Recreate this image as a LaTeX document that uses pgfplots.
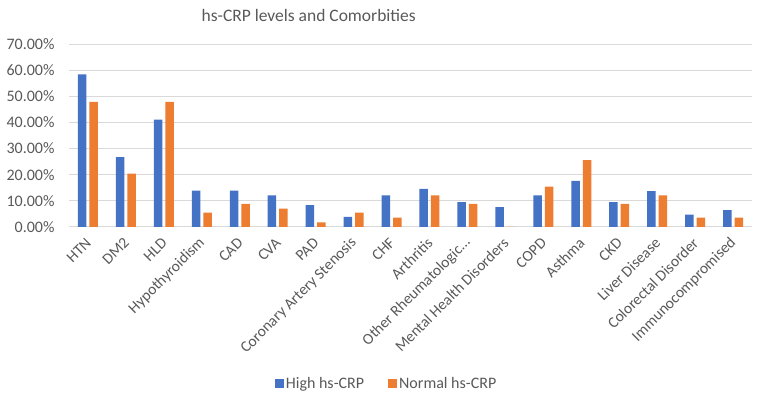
\documentclass[border=0pt]{standalone}
\usepackage{pgfplots}
\pgfplotsset{compat=1.18}
\usepackage{fontspec}
\setmainfont{Carlito}

\definecolor{xlblue}{HTML}{4472C4}
\definecolor{xlorange}{HTML}{ED7D31}
\definecolor{xlgrid}{HTML}{D9D9D9}
\definecolor{xltext}{HTML}{595959}

\begin{document}
\begin{tikzpicture}
\begin{axis}[
    scale only axis,
    width=683pt, height=183pt,
    ybar=3pt,
    bar width=8.5pt,
    ymin=0, ymax=70,
    ytick={0,10,...,70},
    xmin=-0.5, xmax=17.5,
    xtick={0,...,17},
    xticklabels={HTN, DM2, HLD, Hypothyroidism, CAD, CVA, PAD,
        Coronary Artery Stenosis, CHF, Arthritis, {Other Rheumatologic…},
        Mental Health Disorders, COPD, Asthma, CKD, Liver Disease,
        Colorectal Disorder, Immunocompromised},
    xticklabel style={xshift=3pt, yshift=-11pt, rotate=45, anchor=east, font=\fontsize{15.5}{18}\selectfont, text=xltext},
    yticklabel={\pgfmathprintnumber[fixed,fixed zerofill,precision=2]{\tick}\%},
    yticklabel style={font=\fontsize{16}{18}\selectfont, text=xltext, xshift=-11pt},
    /pgf/number format/assume math mode=true,
    major tick length=0pt,
    ymajorgrids,
    grid style={xlgrid, line width=1pt},
    axis x line*=bottom,
    axis y line*=left,
    y axis line style={draw=none},
    x axis line style={xlgrid, line width=1pt, -},
    clip=false,
    legend columns=2,
    legend style={draw=none, fill=none, at={(0.465,-0.855)}, anchor=center,
        font=\fontsize{16}{18}\selectfont, text=xltext,
        /tikz/every even column/.append style={column sep=22pt}},
    legend image code/.code={\fill[#1] (0pt,-4.5pt) rectangle (9pt,4.5pt);},
]
\addplot[fill=xlblue, draw=none] coordinates {
    (0,58.4) (1,26.7) (2,41.1) (3,13.9) (4,13.9) (5,12.1) (6,8.4) (7,3.9) (8,12.1)
    (9,14.6) (10,9.5) (11,7.6) (12,12.1) (13,17.6) (14,9.5) (15,13.7) (16,4.7) (17,6.5)};
\addplot[fill=xlorange, draw=none] coordinates {
    (0,47.9) (1,20.4) (2,47.9) (3,5.5) (4,8.8) (5,7.0) (6,1.8) (7,5.5) (8,3.6)
    (9,12.1) (10,8.8) (11,0) (12,15.4) (13,25.6) (14,8.8) (15,12.1) (16,3.6) (17,3.6)};
\legend{High hs-CRP, Normal hs-CRP}
\node[text=xltext, font=\fontsize{17.5}{20}\selectfont] at ([yshift=29pt]rel axis cs:0.351,1) {hs-CRP levels and Comorbities};
\path ([xshift=-69pt,yshift=-178pt]rel axis cs:0,0) rectangle ([xshift=9pt,yshift=44pt]rel axis cs:1,1);
\end{axis}
\end{tikzpicture}
\end{document}
